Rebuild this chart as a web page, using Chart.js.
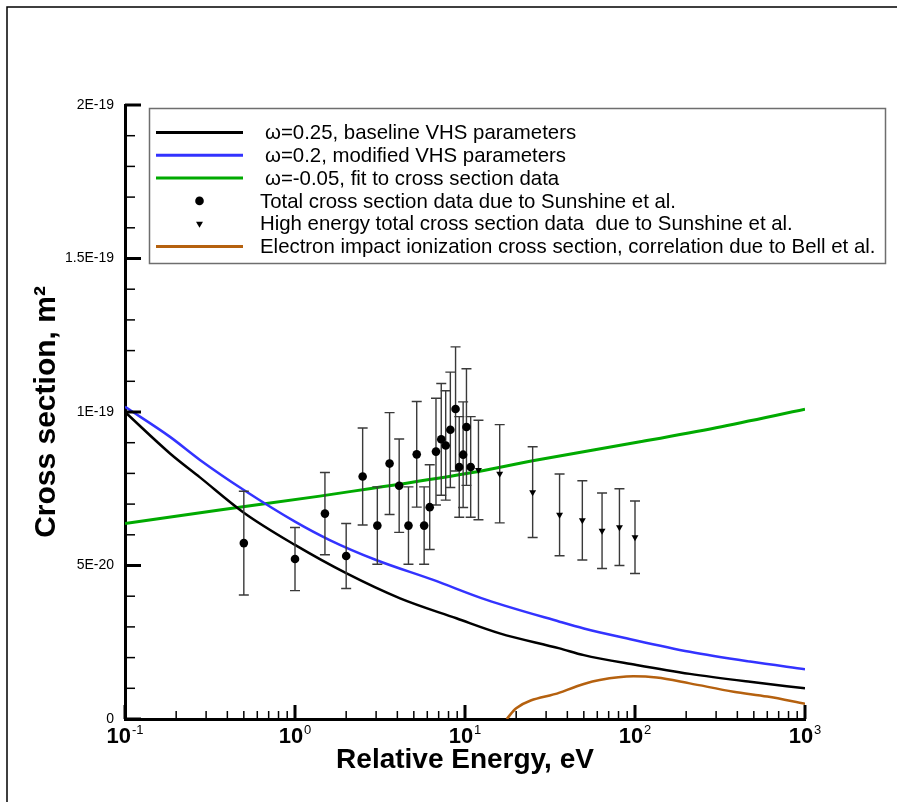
<!DOCTYPE html>
<html>
<head>
<meta charset="utf-8">
<script src="https://cdn.jsdelivr.net/npm/chart.js@4/dist/chart.umd.min.js"></script>
<style>
  body { margin: 0; background: #fff; }
  #wrap { width: 904px; height: 802px; }
</style>
</head>
<body>
<div id="wrap"><canvas id="chart" width="904" height="802"></canvas></div>
<script>
// Energies in eV, cross sections in m^2

// w=0.25 baseline VHS
const vhs25Energy = [0.1, 0.184, 0.276, 0.5, 1, 2, 4.15, 8.9, 16, 36, 50, 102, 210, 475, 1000];
const vhs25Sigma = [1.00e-19, 8.65e-20, 7.87e-20, 6.72e-20, 5.67e-20, 4.75e-20, 3.93e-20, 3.28e-20, 2.79e-20, 2.30e-20, 2.08e-20, 1.76e-20, 1.47e-20, 1.21e-20, 1.00e-20];

// w=0.2 modified VHS
const vhs20Energy = [0.1, 0.184, 0.276, 0.5, 1, 1.6, 3.0, 6.5, 13.4, 36, 50, 89, 210, 475, 1000];
const vhs20Sigma = [1.017e-19, 9.19e-20, 8.44e-20, 7.46e-20, 6.43e-20, 5.83e-20, 5.18e-20, 4.53e-20, 3.88e-20, 3.17e-20, 2.95e-20, 2.63e-20, 2.19e-20, 1.87e-20, 1.62e-20];

// w=-0.05 fit
const fitEnergy = [0.1, 0.36, 1.4, 2.8, 4.15, 10.8, 25, 107, 300, 1000];
const fitSigma = [6.37e-20, 6.81e-20, 7.26e-20, 7.51e-20, 7.65e-20, 8.02e-20, 8.41e-20, 9.03e-20, 9.49e-20, 1.009e-19];

// Sunshine et al. total cross section (circles)
const totalEnergy = [0.5, 1, 1.5, 2, 2.5, 3.05, 3.6, 4.1, 4.65, 5.2, 5.75, 6.2, 6.75, 7.25, 7.7, 8.2, 8.8, 9.25, 9.75, 10.2, 10.8];
const totalSigma = [5.73e-20, 5.21e-20, 6.69e-20, 5.31e-20, 7.90e-20, 6.30e-20, 8.32e-20, 7.60e-20, 6.30e-20, 8.62e-20, 6.30e-20, 6.90e-20, 8.71e-20, 9.11e-20, 8.91e-20, 9.42e-20, 1.010e-19, 8.21e-20, 8.61e-20, 9.51e-20, 8.21e-20];
const totalErr = [1.69e-20, 1.03e-20, 1.34e-20, 1.06e-20, 1.58e-20, 1.26e-20, 1.66e-20, 1.52e-20, 1.26e-20, 1.72e-20, 1.26e-20, 1.38e-20, 1.74e-20, 1.82e-20, 1.78e-20, 1.88e-20, 2.02e-20, 1.64e-20, 1.72e-20, 1.90e-20, 1.64e-20];

// Sunshine et al. high energy (triangles)
const highEnergy = [12, 16, 25, 36, 49, 64, 81, 100];
const highSigma = [8.11e-20, 7.99e-20, 7.39e-20, 6.65e-20, 6.47e-20, 6.13e-20, 6.25e-20, 5.92e-20];
const highErr = [1.62e-20, 1.60e-20, 1.48e-20, 1.33e-20, 1.29e-20, 1.23e-20, 1.25e-20, 1.18e-20];

// Bell et al. ionization correlation
const ionEnergy = [17.6, 20, 36, 50, 62, 98, 134, 210, 380, 600, 1000];
const ionSigma = [0, 3.5e-21, 8.6e-21, 1.14e-20, 1.27e-20, 1.39e-20, 1.35e-20, 1.16e-20, 8.9e-21, 7.3e-21, 5.0e-21];

const seriesLabels = [
  'ω=0.25, baseline VHS parameters',
  'ω=0.2, modified VHS parameters',
  'ω=-0.05, fit to cross section data',
  'Total cross section data due to Sunshine et al.',
  'High energy total cross section data  due to Sunshine et al.',
  'Electron impact ionization cross section, correlation due to Bell et al.'
];

const yTickLabels = ['0', '5E-20', '1E-19', '1.5E-19', '2E-19'];
const xTickValues = [0.1, 1, 10, 100, 1000];
const xTickExponents = ['-1', '0', '1', '2', '3'];

const FONT = "'Liberation Sans', Arial, Helvetica, sans-serif";

function toXY(xs, ys) {
  return xs.map((x, i) => ({ x: x, y: ys[i] }));
}

// error bars under the markers
const errorBars = {
  id: 'errorBars',
  beforeDatasetDraw(chart, args) {
    const ds = chart.data.datasets[args.index];
    if (!ds.yErr) return;
    const { ctx, scales: { x, y } } = chart;
    ctx.save();
    ctx.strokeStyle = '#3a3a3a';
    ctx.lineWidth = 1.4;
    ds.data.forEach((p, i) => {
      const px = x.getPixelForValue(p.x);
      const top = y.getPixelForValue(p.y + ds.yErr[i]);
      const bot = y.getPixelForValue(p.y - ds.yErr[i]);
      ctx.beginPath();
      ctx.moveTo(px, top); ctx.lineTo(px, bot);
      ctx.moveTo(px - 5, top); ctx.lineTo(px + 5, top);
      ctx.moveTo(px - 5, bot); ctx.lineTo(px + 5, bot);
      ctx.stroke();
    });
    ctx.restore();
  }
};

// inward tick marks + superscript decade labels
const axisDecor = {
  id: 'axisDecor',
  afterDraw(chart) {
    const { ctx, scales: { x, y }, chartArea: a } = chart;
    ctx.save();
    ctx.strokeStyle = '#000';
    for (let d = -1; d <= 3; d++) {
      for (let m = 1; m <= (d === 3 ? 1 : 9); m++) {
        const px = x.getPixelForValue(m * Math.pow(10, d));
        const major = m === 1;
        ctx.lineWidth = major ? 3 : 1.5;
        ctx.beginPath();
        ctx.moveTo(px, a.bottom);
        ctx.lineTo(px, a.bottom - (major ? 14 : 8));
        ctx.stroke();
      }
    }
    for (let k = 0; k <= 20; k++) {
      const py = y.getPixelForValue(k * 1e-20);
      const major = k % 5 === 0;
      ctx.lineWidth = major ? 3 : 1.5;
      ctx.beginPath();
      ctx.moveTo(a.left, py);
      ctx.lineTo(a.left + (major ? 16 : 10), py);
      ctx.stroke();
    }

    ctx.fillStyle = '#000';
    ctx.textBaseline = 'alphabetic';
    ctx.textAlign = 'left';
    xTickValues.forEach((v, i) => {
      const px = x.getPixelForValue(v);
      ctx.font = 'bold 22px ' + FONT;
      const w1 = ctx.measureText('10').width;
      ctx.font = '13px ' + FONT;
      const w2 = ctx.measureText(xTickExponents[i]).width;
      const left = px - (w1 + 1 + w2) / 2;
      ctx.font = 'bold 22px ' + FONT;
      ctx.fillText('10', left, 743);
      ctx.font = '13px ' + FONT;
      ctx.fillText(xTickExponents[i], left + w1 + 1, 734);
    });

    // outer frame
    ctx.lineWidth = 1.5;
    ctx.beginPath();
    ctx.moveTo(7, 802); ctx.lineTo(7, 7); ctx.lineTo(897, 7);
    ctx.stroke();
    ctx.restore();
  }
};

// boxed legend like the original
const legendBox = {
  id: 'legendBox',
  afterDraw(chart) {
    const ctx = chart.ctx;
    ctx.save();
    ctx.fillStyle = '#fff';
    ctx.fillRect(149, 108, 736, 155);
    ctx.strokeStyle = '#6e6e6e';
    ctx.lineWidth = 1.5;
    ctx.strokeRect(149.5, 108.5, 736, 155);
    chart.data.datasets.forEach((ds, i) => {
      const yy = 132.5 + i * 22.8;
      if (ds.showLine === false) {
        ctx.fillStyle = ds.backgroundColor;
        Chart.helpers.drawPoint(ctx, {
          pointStyle: ds.pointStyle, radius: ds.pointRadius,
          rotation: ds.pointRotation || 0, borderWidth: 0
        }, 199.5, yy);
      } else {
        ctx.strokeStyle = ds.borderColor;
        ctx.lineWidth = 3;
        ctx.beginPath();
        ctx.moveTo(156, yy); ctx.lineTo(243, yy);
        ctx.stroke();
      }
      ctx.fillStyle = '#000';
      ctx.font = '20.4px ' + FONT;
      ctx.textBaseline = 'middle';
      ctx.fillText(ds.label, ds.label.charAt(0) === 'ω' ? 265 : 260, yy + 1);
    });
    ctx.restore();
  }
};

const curve = (label, data, color, width) => ({
  label: label, data: data, showLine: true,
  borderColor: color, backgroundColor: color, borderWidth: width,
  pointRadius: 0, fill: false, cubicInterpolationMode: 'monotone', order: 2
});

new Chart(document.getElementById('chart'), {
  type: 'line',
  data: {
    datasets: [
      curve(seriesLabels[0], toXY(vhs25Energy, vhs25Sigma), '#000000', 2.5),
      curve(seriesLabels[1], toXY(vhs20Energy, vhs20Sigma), '#3333ff', 2.5),
      curve(seriesLabels[2], toXY(fitEnergy, fitSigma), '#00aa00', 3),
      {
        label: seriesLabels[3], data: toXY(totalEnergy, totalSigma), yErr: totalErr,
        showLine: false, pointStyle: 'circle', pointRadius: 4.3,
        backgroundColor: '#000', borderColor: '#000', borderWidth: 0, order: 1
      },
      {
        label: seriesLabels[4], data: toXY(highEnergy, highSigma), yErr: highErr,
        showLine: false, pointStyle: 'triangle', pointRotation: 180, pointRadius: 4,
        backgroundColor: '#000', borderColor: '#000', borderWidth: 0, order: 1
      },
      curve(seriesLabels[5], toXY(ionEnergy, ionSigma), '#b5610f', 2.5)
    ]
  },
  options: {
    responsive: false,
    animation: false,
    events: [],
    layout: { padding: { left: 12, right: 99, top: 105, bottom: 21 } },
    plugins: { legend: { display: false }, tooltip: { enabled: false } },
    scales: {
      x: {
        type: 'logarithmic', min: 0.1, max: 1000,
        grid: { display: false, drawTicks: false },
        border: { display: true, color: '#000', width: 3 },
        ticks: { display: false },
        title: {
          display: true, text: 'Relative Energy, eV', color: '#000',
          font: { family: FONT, size: 28, weight: 'bold' }, padding: { top: 0, bottom: 4 }
        },
        afterFit: s => { s.height = 62; }
      },
      y: {
        type: 'linear', min: 0, max: 2e-19,
        grid: { display: false, drawTicks: false },
        border: { display: true, color: '#000', width: 3 },
        ticks: {
          stepSize: 5e-20, padding: 11, color: '#000',
          font: { family: FONT, size: 14 },
          callback: (v, i) => yTickLabels[i]
        },
        title: {
          display: true, text: 'Cross section, m²', color: '#000',
          font: { family: FONT, size: 30, weight: 'bold' }, padding: { top: 17, bottom: 0 }
        },
        afterFit: s => { s.width = 113; }
      }
    }
  },
  plugins: [errorBars, axisDecor, legendBox]
});
</script>
</body>
</html>
